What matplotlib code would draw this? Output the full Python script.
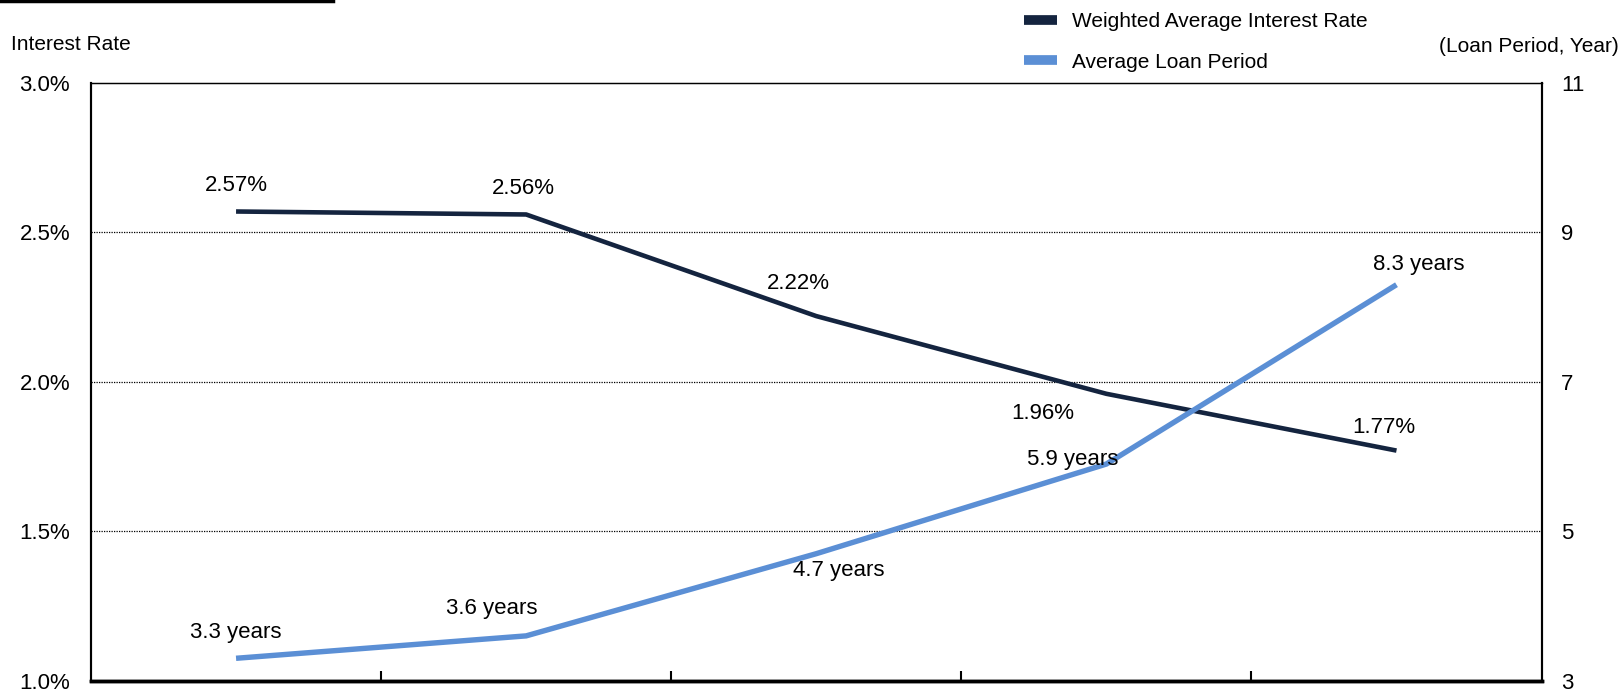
import matplotlib
matplotlib.use('Agg')
import matplotlib.pyplot as plt
from matplotlib.lines import Line2D
from matplotlib.ticker import FuncFormatter

plt.rcParams['font.family'] = ['Liberation Sans', 'DejaVu Sans']

periods = ['P1', 'P2', 'P3', 'P4', 'P5']
rate = [2.57, 2.56, 2.22, 1.96, 1.77]
loan_years = [3.3, 3.6, 4.7, 5.9, 8.3]
rate_labels = ['2.57%', '2.56%', '2.22%', '1.96%', '1.77%']
loan_labels = ['3.3 years', '3.6 years', '4.7 years', '5.9 years', '8.3 years']

dark = '#14243f'
light = '#5b8fd5'

fig = plt.figure(figsize=(16.22, 6.91), dpi=100)
ax = fig.add_axes([0.0561, 0.0149, 0.8943, 0.865])
ax2 = ax.twinx()

x = list(range(len(periods)))
ax.plot(x, rate, color=dark, lw=3.3, solid_capstyle='butt', zorder=3)
ax2.plot(x, loan_years, color=light, lw=3.9, solid_capstyle='butt', zorder=3)

ax.set_xlim(-0.5, len(periods) - 0.5)
ax.set_ylim(1.0, 3.0)
ax2.set_ylim(3, 11)
ax.set_yticks([1.0, 1.5, 2.0, 2.5, 3.0])
ax2.set_yticks([3, 5, 7, 9, 11])
ax.yaxis.set_major_formatter(FuncFormatter(lambda v, p: '%.1f%%' % v))
ax.set_xticks([0.5, 1.5, 2.5, 3.5])
ax.set_xticklabels([])
ax.tick_params(axis='x', direction='in', length=7, width=1.5, color='black')
ax.tick_params(axis='y', length=0, pad=15, labelsize=16)
ax2.tick_params(axis='y', length=0, pad=14, labelsize=16)

for g in [1.5, 2.0, 2.5]:
    ax.axhline(g, color='black', lw=0.9, ls=(0, (1, 1)), zorder=1)

for a in (ax, ax2):
    a.spines['top'].set_linestyle((0, (1, 1)))
    a.spines['top'].set_linewidth(0.9)
    a.spines['bottom'].set_linewidth(2.5)
    a.spines['left'].set_linewidth(1.5)
    a.spines['right'].set_linewidth(1.5)

# label offsets in points
rate_off = [(0, 11), (-2, 11), (-13, 16), (-46, -22), (-9, 9)]
loan_off = [(0, 11), (-25, 12), (16, -20), (-24, -4), (16, 7)]
for i in x:
    ax.annotate(rate_labels[i], (i, rate[i]), xytext=rate_off[i], textcoords='offset points',
                ha='center', va='bottom', fontsize=16)
    ax2.annotate(loan_labels[i], (i, loan_years[i]), xytext=loan_off[i], textcoords='offset points',
                 ha='center', va='bottom', fontsize=16)

fig.text(0.007, 0.935, 'Interest Rate', fontsize=15, ha='left', va='center')
fig.text(0.998, 0.932, '(Loan Period, Year)', fontsize=15, ha='right', va='center')

handles = [Line2D([], [], color=dark, lw=7, solid_capstyle='butt'),
           Line2D([], [], color=light, lw=7, solid_capstyle='butt')]
fig.legend(handles, ['Weighted Average Interest Rate', 'Average Loan Period'],
           loc='upper left', bbox_to_anchor=(0.620, 1.01), frameon=False, fontsize=15,
           handlelength=1.55, handletextpad=0.75, labelspacing=1.05)

fig.add_artist(Line2D([0, 0.205], [0.998, 0.998], color='black', lw=2.5, transform=fig.transFigure))

fig.savefig('out.png', dpi=100)
